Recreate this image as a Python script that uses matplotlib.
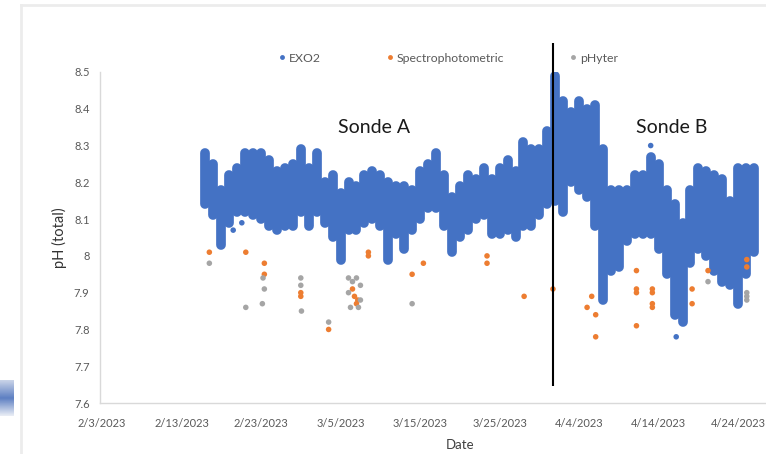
import numpy as np
import pandas as pd
import matplotlib
matplotlib.use('Agg')
import matplotlib.pyplot as plt
import matplotlib.dates as mdates
from matplotlib.ticker import FuncFormatter
from matplotlib.lines import Line2D

plt.rcParams['font.family'] = ['Lato', 'DejaVu Sans']

# EXO2 sonde record, shown as the daily high / low of the continuous pH
exo2_days = pd.date_range('2023-02-16', '2023-04-26', freq='D')
exo2_high = [8.28, 8.25, 8.18, 8.22, 8.24, 8.28, 8.28, 8.28, 8.26, 8.23,
             8.24, 8.25, 8.29, 8.24, 8.28, 8.20, 8.22, 8.17, 8.20, 8.19,
             8.22, 8.23, 8.22, 8.20, 8.19, 8.19, 8.18, 8.23, 8.25, 8.28,
             8.22, 8.16, 8.19, 8.22, 8.21, 8.24, 8.21, 8.24, 8.26, 8.23,
             8.31, 8.29, 8.29, 8.34, 8.49, 8.42, 8.39, 8.42, 8.40, 8.41,
             8.29, 8.18, 8.18, 8.18, 8.22, 8.22, 8.27, 8.25, 8.18, 8.14,
             8.09, 8.18, 8.24, 8.23, 8.22, 8.21, 8.15, 8.24, 8.24, 8.24]
exo2_low = [8.14, 8.11, 8.03, 8.09, 8.12, 8.12, 8.11, 8.10, 8.08, 8.07,
            8.08, 8.08, 8.12, 8.08, 8.12, 8.09, 8.05, 7.99, 8.07, 8.07,
            8.09, 8.10, 8.08, 7.99, 8.06, 8.02, 8.07, 8.10, 8.13, 8.13,
            8.08, 8.01, 8.05, 8.07, 8.10, 8.11, 8.06, 8.06, 8.07, 8.05,
            8.08, 8.08, 8.11, 8.14, 8.15, 8.12, 8.20, 8.18, 8.16, 8.08,
            7.88, 7.96, 7.97, 8.04, 8.06, 8.06, 8.06, 8.02, 7.95, 7.84,
            7.82, 7.98, 8.02, 8.00, 7.96, 7.93, 7.92, 7.87, 7.95, 8.01]

# single EXO2 readings lying outside the daily band
exo2_extra_time = ['2023-02-19 12:00', '2023-02-20 14:00',
                   '2023-04-13 00:00', '2023-04-16 05:00']
exo2_extra_ph = [8.07, 8.09, 8.30, 7.78]

spec_time = ['2023-02-16 12:00', '2023-02-21 02:00', '2023-02-23 10:00', '2023-02-23 10:00',
             '2023-02-28 00:00', '2023-02-28 00:00', '2023-03-03 12:00', '2023-03-06 12:00',
             '2023-03-06 18:00', '2023-03-07 04:00', '2023-03-07 00:00', '2023-03-08 12:00',
             '2023-03-08 12:00', '2023-03-14 00:00', '2023-03-15 10:00', '2023-03-23 10:00',
             '2023-03-23 10:00', '2023-03-28 02:00', '2023-03-31 17:00', '2023-04-05 00:00',
             '2023-04-05 14:00', '2023-04-06 02:00', '2023-04-06 02:00', '2023-04-11 05:00',
             '2023-04-11 05:00', '2023-04-11 05:00', '2023-04-11 05:00', '2023-04-13 05:00',
             '2023-04-13 05:00', '2023-04-13 05:00', '2023-04-13 05:00', '2023-04-18 05:00',
             '2023-04-18 05:00', '2023-04-20 05:00', '2023-04-25 02:00', '2023-04-25 02:00']
spec_ph = [8.01, 8.01, 7.98, 7.95,
           7.90, 7.89, 7.80, 7.91,
           7.89, 7.88, 7.87, 8.00,
           8.01, 7.95, 7.98, 8.00,
           7.98, 7.89, 7.91, 7.86,
           7.89, 7.84, 7.78, 7.96,
           7.91, 7.90, 7.81, 7.91,
           7.90, 7.87, 7.86, 7.91,
           7.87, 7.96, 7.99, 7.97]

phyter_time = ['2023-02-16 12:00', '2023-02-21 02:00', '2023-02-23 06:00', '2023-02-23 10:00',
               '2023-02-23 04:00', '2023-02-28 00:00', '2023-02-28 00:00', '2023-02-28 02:00',
               '2023-03-03 12:00', '2023-03-06 00:00', '2023-03-06 12:00', '2023-03-07 00:00',
               '2023-03-06 00:00', '2023-03-07 12:00', '2023-03-06 06:00', '2023-03-07 06:00',
               '2023-03-07 12:00', '2023-03-14 00:00', '2023-04-20 05:00', '2023-04-25 02:00',
               '2023-04-25 02:00', '2023-04-25 02:00']
phyter_ph = [7.98, 7.86, 7.94, 7.91,
             7.87, 7.94, 7.92, 7.85,
             7.82, 7.94, 7.93, 7.94,
             7.90, 7.92, 7.86, 7.86,
             7.88, 7.87, 7.93, 7.90,
             7.89, 7.88]

sonde_switch = pd.Timestamp('2023-03-31 17:00')
date_ticks = pd.date_range('2023-02-03', periods=9, freq='10D')
ph_ticks = [7.6, 7.7, 7.8, 7.9, 8.0, 8.1, 8.2, 8.3, 8.4, 8.5]

blue = '#4472C4'
orange = '#ED7D31'
grey = '#A5A5A5'
label_col = '#595959'

fig = plt.figure(figsize=(7.66, 4.54), dpi=100)
fig.patch.set_facecolor('white')

# faint frame and blue tab along the left edge of the screenshot
fig.add_artist(Line2D([21/766, 21/766], [0, 1 - 5/454], color='#ececec', lw=2))
fig.add_artist(Line2D([21/766, 1], [1 - 5/454, 1 - 5/454], color='#ececec', lw=2))
tab = fig.add_axes([0, (454-416)/454, 13/766, 36/454])
tab.imshow(np.linspace(0, 1, 50).reshape(-1, 1), cmap=matplotlib.colors.LinearSegmentedColormap.from_list(
    'tab', ['#c9d3e8', '#5d7fc2', '#e9edf5']), aspect='auto')
tab.axis('off')

ax = fig.add_axes([100/766, (454-403)/454, 666/766, (403-72)/454])

ax.vlines(exo2_days, exo2_low, exo2_high, color=blue, lw=7,
          capstyle='round', zorder=2)
ax.scatter(pd.to_datetime(exo2_extra_time), exo2_extra_ph, s=16, color=blue,
           edgecolors='none', zorder=2)
ax.scatter(pd.to_datetime(spec_time), spec_ph, s=16, color=orange,
           edgecolors='none', zorder=3)
ax.scatter(pd.to_datetime(phyter_time), phyter_ph, s=16, color=grey,
           edgecolors='none', zorder=4)

# marks the change from sonde A to sonde B
ax.vlines(sonde_switch, 7.645, 8.58, color='black', lw=1.5, zorder=5, clip_on=False)

ax.text(pd.Timestamp('2023-03-09 05:00'), 8.35, 'Sonde A', fontsize=14,
        ha='center', va='center', color='#1a1a1a')
ax.text(pd.Timestamp('2023-04-15 14:00'), 8.35, 'Sonde B', fontsize=14,
        ha='center', va='center', color='#1a1a1a')

ax.set_xlim(pd.Timestamp('2023-02-02 18:00'), pd.Timestamp('2023-04-27 12:00'))
ax.set_ylim(7.6, 8.5)
ax.set_xticks(date_ticks)
ax.xaxis.set_major_formatter(FuncFormatter(
    lambda v, p: '{0.month}/{0.day}/{0.year}'.format(mdates.num2date(v))))
ax.set_yticks(ph_ticks)
ax.yaxis.set_major_formatter(FuncFormatter(lambda v, p: f'{v:g}'))
ax.tick_params(length=0, labelsize=8, labelcolor=label_col)
ax.tick_params(axis='x', pad=11)
ax.tick_params(axis='y', pad=7.5)

for side in ['top', 'right']:
    ax.spines[side].set_visible(False)
for side in ['left', 'bottom']:
    ax.spines[side].set_color('#d9d9d9')
    ax.spines[side].set_linewidth(1)

ax.set_xlabel('Date', fontsize=9.5, color='#404040')
ax.xaxis.set_label_coords(0.54, -0.11)
ax.set_ylabel('pH (total)', fontsize=10.5, color='#333333')
ax.yaxis.set_label_coords(-0.049, 0.5)

handles = [Line2D([], [], ls='', marker='o', markersize=3.5, color=c, markeredgewidth=0)
           for c in [blue, orange, grey]]
ax.legend(handles, ['EXO2', 'Spectrophotometric', 'pHyter'], ncol=3, frameon=False,
          loc='center', bbox_to_anchor=(0.521, 1.042), fontsize=8.8,
          labelcolor=label_col, handletextpad=0.1, columnspacing=5.1,
          handlelength=1)

fig.savefig('out.png', dpi=100)
